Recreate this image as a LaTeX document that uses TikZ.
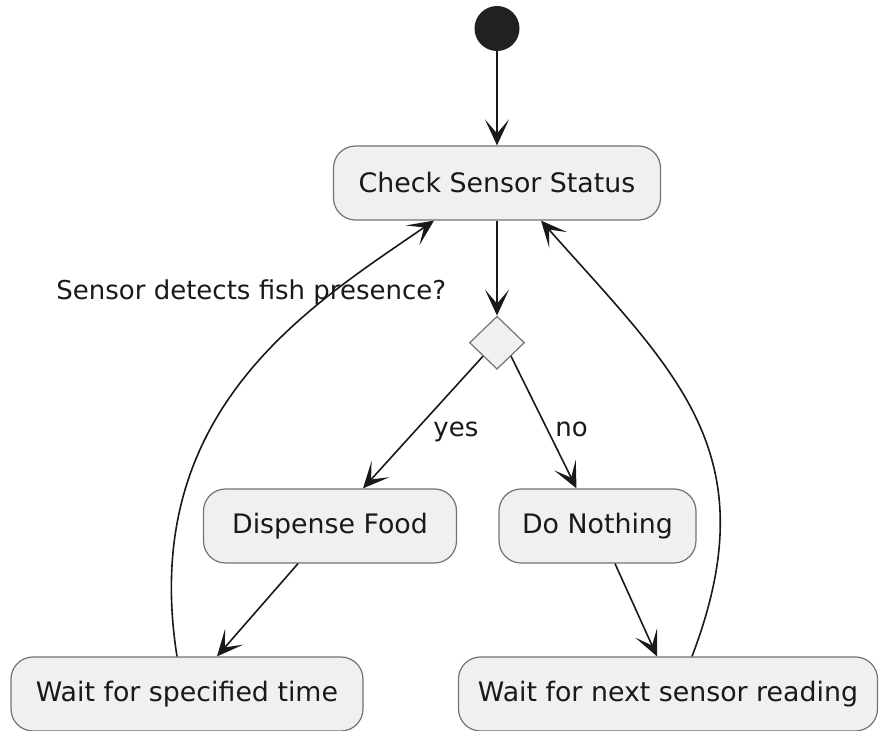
\documentclass[tikz,border=0pt]{standalone}
\usepackage{fontspec}
\setmainfont{DejaVu Sans}
\usepackage{tikz}
\usetikzlibrary{arrows.meta,positioning,calc,shapes.geometric}

\begin{document}
\begin{tikzpicture}[
    x=0.5pt, y=-0.5pt,
    font=\fontsize{13.4}{16}\selectfont,
    act/.style={draw=black!55, line width=0.6pt, fill=black!6, rounded corners=11pt,
                inner xsep=11.5pt, minimum height=37pt, text=black!90},
    dec/.style={draw=black!55, line width=0.6pt, fill=black!6, diamond,
                minimum width=27.5pt, minimum height=26.5pt, inner sep=0pt},
    startpt/.style={circle, fill=black!87, minimum size=22.5pt, inner sep=0pt},
    lbl/.style={font=\fontsize{13}{15}\selectfont, text=black!90, inner sep=0pt},
    flow/.style={draw=black!90, line width=0.8pt,
                 -{Stealth[length=13pt, width=12pt, inset=7pt]}},
    ]
\useasboundingbox (0,0) rectangle (879,731);

\node[act, minimum width=163.5pt] (check) at (497,183) {Check Sensor Status};
\node[startpt, above=47pt of check] (start) {};
\node[dec, below=47.5pt of check] (dec) {};
\node[act, minimum width=126.5pt] (food) at (330,526) {Dispense Food};
\node[act, minimum width=97.5pt] (nothing) at (597.5,526) {Do Nothing};
\node[act, minimum width=176pt] (waitfix) at (187,694) {Wait for specified time};
\node[act, minimum width=209.5pt, inner xsep=8pt] (waitnext) at (668,694) {Wait for next sensor reading};

\node[lbl, anchor=base west] (qlbl) at (56,300) {Sensor detects fish presence?};
\node[lbl, anchor=base west] (yeslbl) at (433,437) {yes};
\node[lbl, anchor=base west] (nolbl) at (555,437) {no};

\draw[flow] (start) -- (check);
\draw[flow] (check) -- (dec);
\draw[flow] (dec.south west) -- ($(food.north)+(33,0)$);
\draw[flow] (dec.south east) -- ($(nothing.north)+(-21,0)$);
\draw[flow] ($(food.south)+(-32,0)$) -- ($(waitfix.north)+(30,0)$);
\draw[flow] ($(nothing.south)+(17.5,0)$) -- ($(waitnext.north)+(-11,0)$);

% both loops go back up to the sensor check
\draw[flow] ($(waitfix.north)+(-10,0)$) .. controls (138,410) and (310,306) .. ($(check.south)+(-63,0)$);
\draw[flow] ($(waitnext.north)+(24,0)$) .. controls (770,452) and (675,372) .. ($(check.south)+(44,0)$);
\end{tikzpicture}
\end{document}
